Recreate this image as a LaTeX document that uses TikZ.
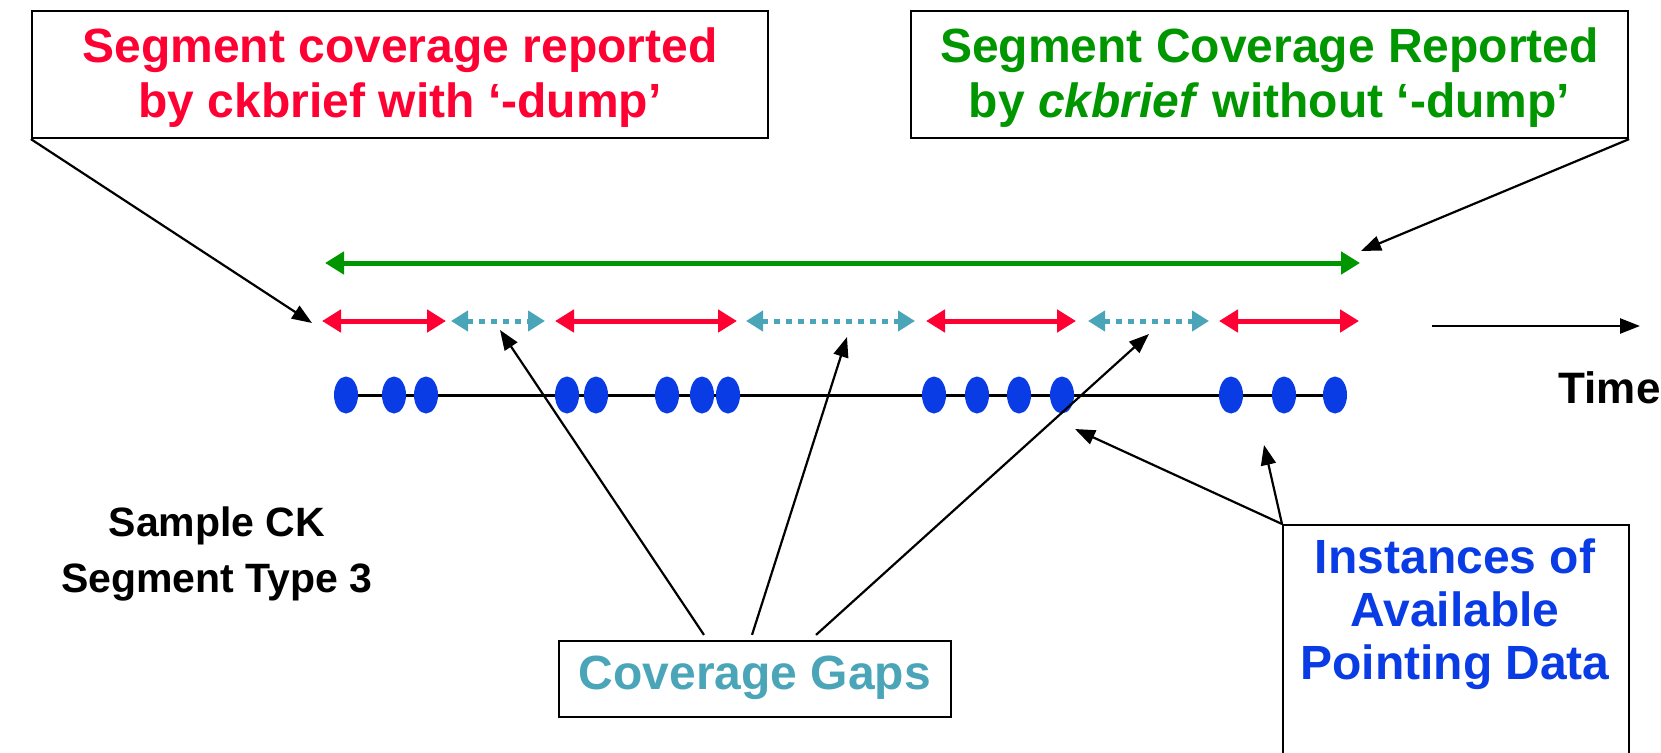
\documentclass[tikz,border=0pt]{standalone}
\usepackage{fontspec}
\setmainfont{Liberation Sans}
\usetikzlibrary{arrows.meta,shapes.geometric,calc}
\definecolor{cred}{RGB}{255,0,51}
\definecolor{cgreen}{RGB}{0,150,0}
\definecolor{cteal}{RGB}{75,165,185}
\definecolor{cblue}{RGB}{10,60,230}
\tikzset{
  box/.style={draw=black,line width=2.2pt,fill=white,inner sep=0pt},
  bigtxt/.style={font=\fontsize{48}{55}\selectfont\bfseries,align=center},
  redarr/.style={cred,line width=5pt,{Triangle[length=19pt,width=22pt]}-{Triangle[length=19pt,width=22pt]}},
  gaparr/.style={cteal,line width=5pt,dash pattern=on 6pt off 6pt,{Triangle[length=17pt,width=20pt]}-{Triangle[length=17pt,width=20pt]}},
  greenarr/.style={cgreen,line width=5pt,{Triangle[length=19pt,width=22pt]}-{Triangle[length=19pt,width=22pt]}},
  callout/.style={black,line width=2.2pt,-{Triangle[length=20pt,width=15pt]}},
  dot/.style={ellipse,fill=cblue,minimum width=24pt,minimum height=37pt,inner sep=0pt}
}
\begin{document}
\begin{tikzpicture}[x=1pt,y=-1pt]
\useasboundingbox (0,0) rectangle (1661,752);
% boxes
\node[box,minimum width=736pt,minimum height=127pt] (lbox) at (400,74.5) {};
\node[bigtxt,text=cred] (ltxt) at (400,78) {Segment coverage reported\\by ckbrief with ‘-dump’};
\node[box,minimum width=717pt,minimum height=127pt] (rbox) at (1269.5,74.5) {};
\node[bigtxt,text=cgreen] (rtxt) at (1269.5,78) {Segment Coverage Reported\\by \textit{ckbrief} without ‘-dump’};
\node[box,minimum width=392pt,minimum height=76pt] (gbox) at (755,679) {};
\node[bigtxt,text=cteal] (gtxt) at (755,678) {Coverage Gaps};
\node[box,anchor=north west,minimum width=346pt,minimum height=260pt] (ibox) at (1282,524) {};
\node[font=\fontsize{48}{53}\selectfont\bfseries,align=center,text=cblue] (itxt) at (1455,614) {Instances of\\Available\\Pointing Data};
\node[font=\fontsize{41}{56}\selectfont\bfseries,align=center] (sample) at (217,554) {Sample CK\\Segment Type 3};
\node[font=\fontsize{44}{50}\selectfont\bfseries,anchor=east] (time) at (1664,388) {Time};
% green coverage
\coordinate (g0) at (325,263); \coordinate (g1) at (1360,263);
\draw[greenarr] (g0) -- (g1);
% red segments
\coordinate (r1a) at (322,321); \coordinate (r1b) at (446,321);
\coordinate (r2a) at (555,321); \coordinate (r2b) at (737,321);
\coordinate (r3a) at (926,321); \coordinate (r3b) at (1076,321);
\coordinate (r4a) at (1219,321); \coordinate (r4b) at (1359,321);
\draw[redarr] (r1a) -- (r1b);
\draw[redarr] (r2a) -- (r2b);
\draw[redarr] (r3a) -- (r3b);
\draw[redarr] (r4a) -- (r4b);
% gaps
\coordinate (p1a) at (451,321); \coordinate (p1b) at (545,321);
\coordinate (p2a) at (746,321); \coordinate (p2b) at (915,321);
\coordinate (p3a) at (1088,321); \coordinate (p3b) at (1209,321);
\draw[gaparr] (p1a) -- (p1b);
\draw[gaparr] (p2a) -- (p2b);
\draw[gaparr] (p3a) -- (p3b);
% time arrow
\coordinate (t0) at (1432,326); \coordinate (t1) at (1640,326);
\draw[black,line width=2.5pt,-{Triangle[length=20pt,width=15pt]}] (t0) -- (t1);
% dots
\foreach \i/\x in {1/346,2/394,3/426,4/567,5/596,6/667,7/702,8/728,9/934,10/977,11/1019,12/1062,13/1231,14/1284,15/1335}
  \coordinate (d\i) at (\x,395);
\draw[black,line width=3pt] (d1) -- (d15);
\foreach \i in {1,...,15}
  \node[dot] (e\i) at (d\i) {};
% callouts
\coordinate (lt) at (312,323);
\draw[callout] (lbox.south west) -- (lt);
\coordinate (rt) at (1361,251);
\draw[callout] (rbox.south east) -- (rt);
\coordinate (c1) at (500,330);
\coordinate (c2) at (847,337);
\coordinate (c3) at (1149,334);
\draw[callout] ([xshift=-51pt,yshift=5pt]gbox.north) -- (c1);
\draw[callout] ([xshift=-3pt,yshift=5pt]gbox.north) -- (c2);
\draw[callout] ([xshift=61pt,yshift=5pt]gbox.north) -- (c3);
\coordinate (i1) at (1075,429);
\coordinate (i2) at (1264,445);
\draw[callout] (ibox.north west) -- (i1);
\draw[callout] (ibox.north west) -- (i2);
\end{tikzpicture}
\end{document}
